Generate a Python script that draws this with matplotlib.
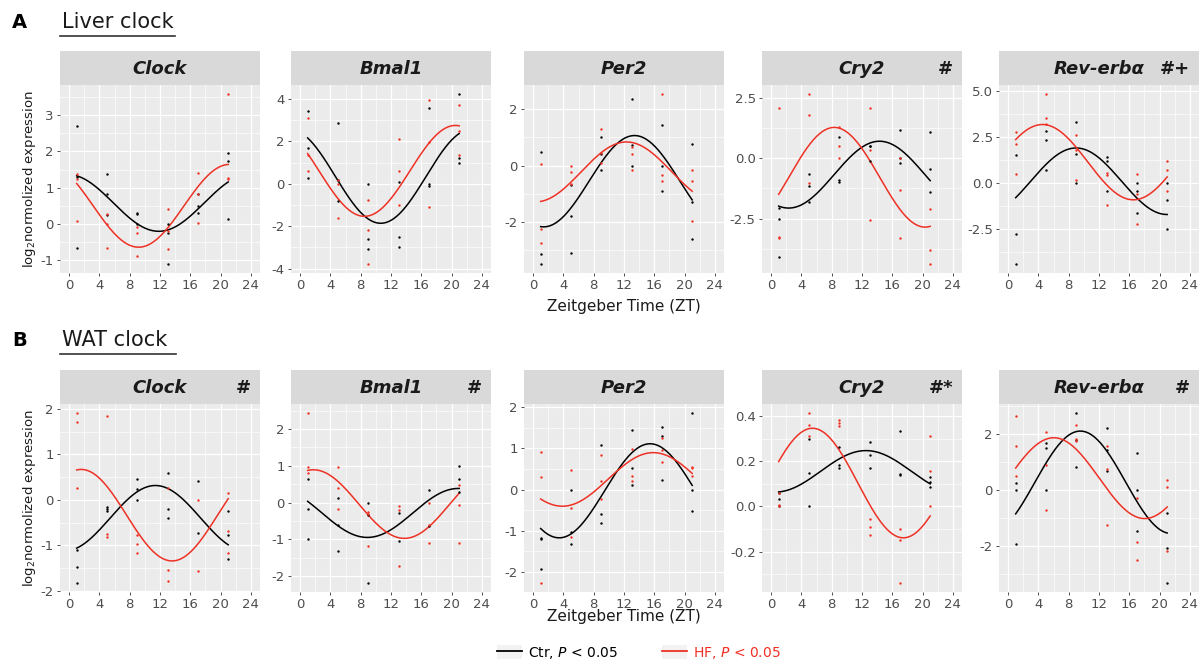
import numpy as np
import matplotlib
matplotlib.use("Agg")
import matplotlib.pyplot as plt
from matplotlib.ticker import MultipleLocator, FormatStrFormatter
from matplotlib.lines import Line2D
from matplotlib.patches import Patch

# Zeitgeber time points
zt = [1, 5, 9, 13, 17, 21]

# Liver clock, one list of replicates per time point
liver_clock_ctr = [[2.7, 1.3, -0.67], [1.38, 0.83, 0.24], [0.3, 0.27, 0.0], [0.0, -0.25, -1.12], [0.83, 0.5, 0.3], [1.95, 1.75, 0.13]]
liver_clock_hf = [[1.37, 1.25, 0.09], [0.28, 0.0, -0.67], [-0.08, -0.25, -0.9], [0.4, -0.2, -0.68], [1.4, 0.03, 0.83], [3.6, 1.28, 1.25]]
liver_bmal1_ctr = [[3.42, 1.67, 0.27], [2.86, 0.2, -0.83], [0.0, -2.58, -3.08], [0.08, -2.53, -3.0], [3.55, 0.0, -0.1], [4.25, 1.22, 0.97]]
liver_bmal1_hf = [[3.08, 1.37, 0.58], [0.2, 0.0, -1.62], [-0.77, -2.2, -3.8], [2.1, 0.62, -1.0], [3.95, 1.95, -1.08], [3.7, 2.5, 1.35]]
liver_per2_ctr = [[0.47, -3.12, -3.5], [-0.68, -1.8, -3.08], [1.02, 0.4, -0.15], [2.35, 0.72, 0.0], [1.44, 0.0, -0.9], [0.75, -1.28, -2.6]]
liver_per2_hf = [[0.05, -2.25, -2.75], [0.0, -0.22, -0.66], [1.3, 0.45, 0.08], [0.66, 0.42, -0.14], [2.55, -0.35, -0.53], [-0.15, -0.55, -1.95]]
liver_cry2_ctr = [[-2.05, -2.5, -4.1], [-0.65, -1.17, -1.82], [0.86, -0.9, -1.0], [0.52, 0.5, -0.1], [1.15, -0.2, 0.0], [1.07, -0.45, -1.4]]
liver_cry2_hf = [[2.1, -3.25, -3.3], [2.68, 1.8, -1.02], [1.3, 0.5, 0.0], [2.1, 0.35, -2.55], [0.0, -1.3, -3.3], [-2.1, -3.8, -4.4]]
liver_rev_ctr = [[1.5, -2.75, -4.4], [2.82, 2.35, 0.72], [3.3, 1.6, 0.0], [1.4, 1.2, -0.4], [0.0, -0.45, -1.62], [0.0, -0.9, -2.5]]
liver_rev_hf = [[2.78, 2.1, 0.5], [4.85, 3.5, 3.2], [2.6, 1.8, 0.15], [0.55, 0.45, -1.2], [0.47, -0.6, -2.22], [1.22, 0.7, -0.4]]

# WAT clock
wat_clock_ctr = [[-1.1, -1.48, -1.84], [-0.15, -0.2, -0.25], [0.46, 0.23, 0.0], [0.6, -0.2, -0.4], [0.42, -0.72], [-0.25, -0.78, -1.31]]
wat_clock_hf = [[1.92, 1.72, 0.25], [1.84, -0.75, -0.82], [-0.78, -0.97, -1.16], [0.27, -1.55, -1.79], [0.0, -1.56], [0.14, -0.69, -1.18]]
wat_bmal1_ctr = [[0.65, -0.18, -1.0], [0.12, -0.6, -1.33], [0.0, -0.35, -2.2], [-0.28, -1.04], [0.35, -0.63], [1.0, 0.65, 0.3]]
wat_bmal1_hf = [[2.45, 0.98, 0.8], [0.98, 0.4, -0.17], [-0.25, -0.3, -1.17], [-0.1, -0.2, -1.73], [0.0, -0.62, -1.1], [0.47, -0.07, -1.1]]
wat_per2_ctr = [[-1.18, -1.21, -1.93], [0.0, -1.02, -1.33], [1.07, -0.6, -0.8], [1.44, 0.52, 0.1], [1.52, 1.3, 0.24], [1.87, 0.0, -0.53]]
wat_per2_hf = [[0.92, 0.3, -2.28], [0.47, -0.45, -1.14], [0.84, 0.2, -0.24], [0.99, 0.33, 0.2], [1.25, 0.96, 0.68], [0.55, 0.52, 0.33]]
wat_cry2_ctr = [[0.035, 0.06, 0.0], [0.296, 0.15, 0.0], [0.265, 0.185, 0.172], [0.285, 0.226, 0.17], [0.335, 0.145, 0.14], [0.132, 0.11, 0.088]]
wat_cry2_hf = [[0.06, 0.008, 0.0], [0.415, 0.36, 0.31], [0.38, 0.37, 0.355], [-0.055, -0.09, -0.125], [-0.1, -0.148, -0.34], [0.31, 0.155, 0.0]]
wat_rev_ctr = [[0.25, 0.0, -1.93], [1.68, 1.5, 0.0], [2.75, 1.78, 0.8], [2.2, 1.43, 0.68], [1.32, 0.0, -1.47], [-0.85, -2.1, -3.35]]
wat_rev_hf = [[2.62, 1.56, 0.5], [2.05, 0.87, -0.72], [2.3, 1.82, 1.75], [1.55, 0.74, -1.25], [-0.3, -1.87, -2.5], [0.33, 0.1, -2.2]]

genes = ["Clock", "Bmal1", "Per2", "Cry2", "Rev-erbα"]
liver_marks = ["", "", "", "#", "#+"]
wat_marks = ["#", "#", "", "#*", "#"]
liver_steps = [1, 2, 2, 2.5, 2.5]
wat_steps = [1, 1, 1, 0.2, 2]
liver_fmt = ["%d", "%d", "%d", "%.1f", "%.1f"]
wat_fmt = ["%d", "%d", "%d", "%.1f", "%d"]

liver_data = [(liver_clock_ctr, liver_clock_hf), (liver_bmal1_ctr, liver_bmal1_hf), (liver_per2_ctr, liver_per2_hf),
              (liver_cry2_ctr, liver_cry2_hf), (liver_rev_ctr, liver_rev_hf)]
wat_data = [(wat_clock_ctr, wat_clock_hf), (wat_bmal1_ctr, wat_bmal1_hf), (wat_per2_ctr, wat_per2_hf),
            (wat_cry2_ctr, wat_cry2_hf), (wat_rev_ctr, wat_rev_hf)]

CTR_COL = "black"
HF_COL = "#EE3124"
W, H = 1203, 666

fig = plt.figure(figsize=(W / 100, H / 100), dpi=100)
fig.patch.set_facecolor("white")


def flatten(groups):
    xs, ys = [], []
    for t, vals in zip(zt, groups):
        xs += [t] * len(vals)
        ys += vals
    return np.array(xs, float), np.array(ys, float)


def cosinor(x, y, xs, period=24.0):
    # least squares fit of mesor + 24 h cosine
    basis = lambda t: np.column_stack([np.ones(len(t)), np.cos(2 * np.pi * t / period),
                                       np.sin(2 * np.pi * t / period)])
    beta = np.linalg.lstsq(basis(x), y, rcond=None)[0]
    return basis(xs) @ beta


def px_axes(left, top, width, height):
    return fig.add_axes([left / W, 1 - (top + height) / H, width / W, height / H])


def draw_panel(left, top, height, gene, mark, data, step, fmt):
    width = 200
    ax = px_axes(left, top, width, height)
    ax.set_facecolor("#EBEBEB")
    for s in ax.spines.values():
        s.set_visible(False)
    xgrid = np.linspace(1, 21, 161)
    for groups, col in zip(data, [CTR_COL, HF_COL]):
        x, y = flatten(groups)
        ax.scatter(x, y, s=3, color=col, zorder=3, linewidths=0)
        ax.plot(xgrid, cosinor(x, y, xgrid), color=col, lw=1.1, zorder=2)
    ax.set_xlim(-1.2, 25.2)
    ax.margins(y=0.05)
    ax.xaxis.set_major_locator(MultipleLocator(4))
    ax.xaxis.set_minor_locator(MultipleLocator(2))
    ax.yaxis.set_major_locator(MultipleLocator(step))
    ax.yaxis.set_minor_locator(MultipleLocator(step / 2))
    ax.yaxis.set_major_formatter(FormatStrFormatter(fmt))
    ax.grid(which="major", color="white", lw=0.9)
    ax.grid(which="minor", color="white", lw=0.45)
    ax.set_axisbelow(True)
    ax.tick_params(which="major", length=2.5, width=0.6, color="#333333", labelsize=9.5,
                   labelcolor="#4D4D4D", pad=2)
    ax.tick_params(which="minor", length=0)

    # facet strip
    strip = px_axes(left, top - 34, width, 34)
    strip.set_facecolor("#D9D9D9")
    strip.set_xticks([])
    strip.set_yticks([])
    for s in strip.spines.values():
        s.set_visible(False)
    strip.text(0.5, 0.47, gene, ha="center", va="center", fontsize=13, fontweight="bold",
               fontstyle="italic", color="#1A1A1A")
    if mark:
        strip.text(0.955, 0.47, mark, ha="right", va="center", fontsize=13, fontweight="bold",
                   color="#1A1A1A")
    return ax


lefts = [60, 291, 524, 762, 999]
for i in range(5):
    draw_panel(lefts[i], 85, 188, genes[i], liver_marks[i], liver_data[i], liver_steps[i], liver_fmt[i])
    draw_panel(lefts[i], 404, 188, genes[i], wat_marks[i], wat_data[i], wat_steps[i], wat_fmt[i])

# section labels
fig.text(12 / W, 1 - 22 / H, "A", fontsize=14, fontweight="bold", va="center")
fig.text(62 / W, 1 - 22 / H, "Liver clock", fontsize=15, va="center", color="#1A1A1A")
fig.add_artist(Line2D([60 / W, 175 / W], [1 - 36 / H, 1 - 36 / H], color="#333333", lw=1.2))
fig.text(12 / W, 1 - 340 / H, "B", fontsize=14, fontweight="bold", va="center")
fig.text(62 / W, 1 - 340 / H, "WAT clock", fontsize=15, va="center", color="#1A1A1A")
fig.add_artist(Line2D([60 / W, 176 / W], [1 - 354 / H, 1 - 354 / H], color="#333333", lw=1.2))

# axis titles
for yc in [179, 498]:
    fig.text(30 / W, 1 - yc / H, r"log$_2$normolized expression", rotation=90, ha="center",
             va="center", fontsize=9.5, color="#1A1A1A")
for yc in [306, 617]:
    fig.text(624 / W, 1 - yc / H, "Zeitgeber Time (ZT)", ha="center", va="center", fontsize=11,
             color="#1A1A1A")

# legend with grey key boxes
key = Patch(facecolor="#F2F2F2", edgecolor="none")
handles = [(key, Line2D([], [], color=CTR_COL, lw=1.3)), (key, Line2D([], [], color=HF_COL, lw=1.3))]
leg = fig.legend(handles, [r"Ctr, $\it{P}$ < 0.05", r"HF, $\it{P}$ < 0.05"], loc="center",
                 bbox_to_anchor=(639 / W, 1 - 653 / H), ncol=2, frameon=False, fontsize=10,
                 handlelength=1.8, handleheight=1.2, columnspacing=3.2, handletextpad=0.4,
                 borderpad=0.1)
leg.get_texts()[1].set_color(HF_COL)

fig.savefig("out.png", dpi=100, facecolor="white")
